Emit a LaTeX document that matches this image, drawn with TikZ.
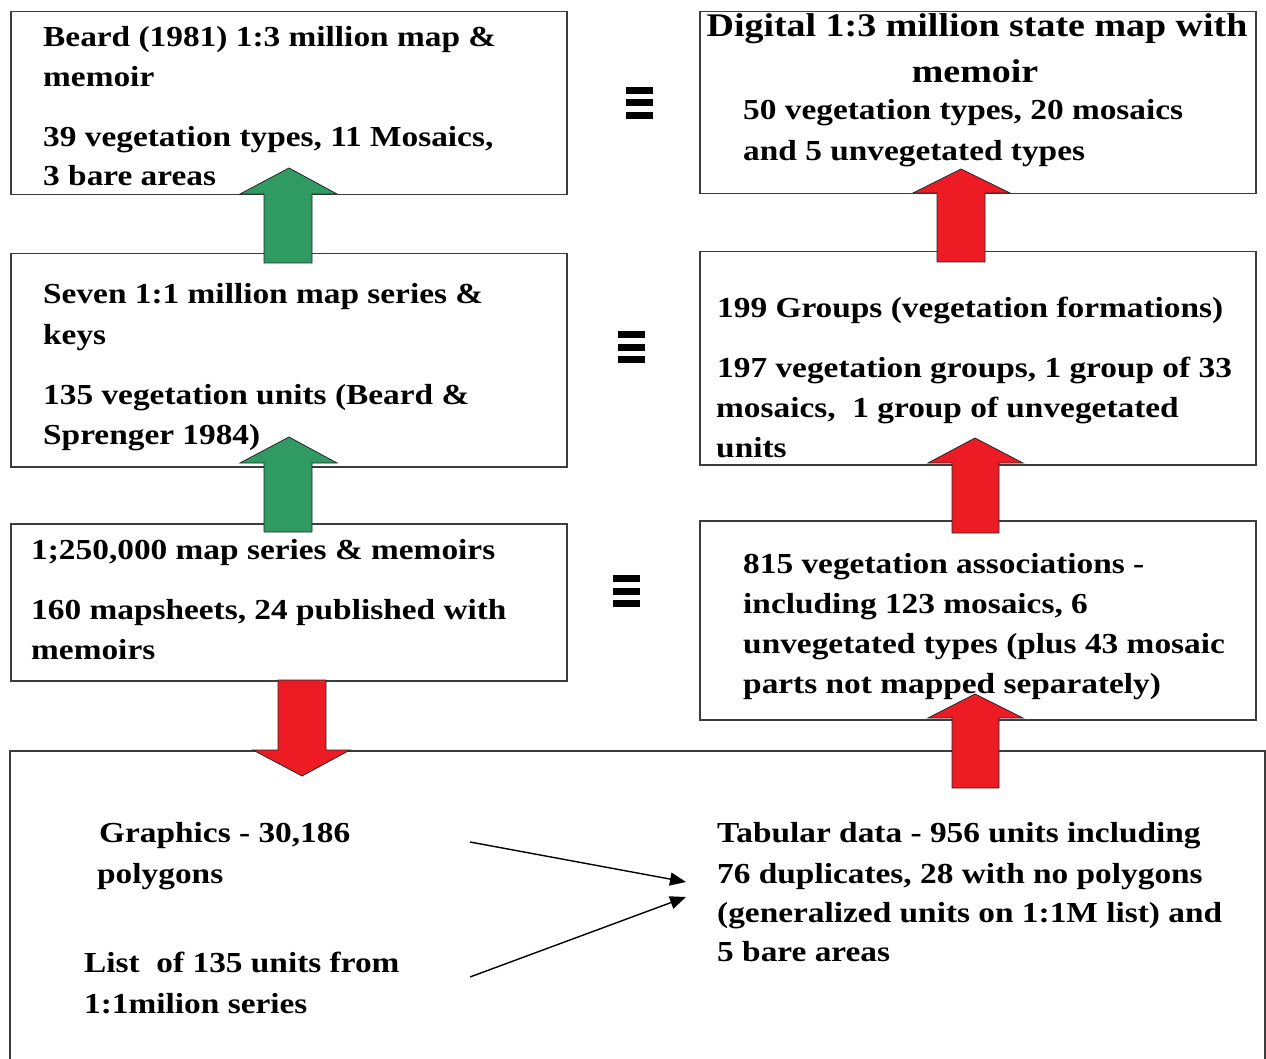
\documentclass[tikz,border=0pt]{standalone}
\usepackage{fontspec}
\setmainfont{Liberation Serif}[FakeStretch=1.15]
\usetikzlibrary{arrows.meta}
\definecolor{boxline}{RGB}{60,60,60}
\definecolor{arrgreen}{RGB}{47,155,99}
\definecolor{arrred}{RGB}{237,28,36}
\tikzset{
  box/.style={draw=boxline, line width=1.5pt, fill=white, rectangle, anchor=north west, inner sep=0pt},
  txt/.style={anchor=base west, inner sep=0pt, font=\bfseries\fontsize{29}{35}\selectfont},
  ttl/.style={anchor=base, inner sep=0pt, font=\bfseries\fontsize{33}{40}\selectfont},
  blockarrow/.style={draw=black!85, line width=0.8pt, line join=miter},
  greenarrow/.style={blockarrow, fill=arrgreen},
  redarrow/.style={blockarrow, fill=arrred},
  thinarrow/.style={draw=black, line width=1.4pt, -{Triangle[length=16pt,width=13pt]}},
  eqbar/.style={fill=black, draw=none}
}
\begin{document}
\begin{tikzpicture}[x=1pt,y=-1pt]
\useasboundingbox (0,0) rectangle (1266,1059);

% boxes
\node[box, minimum width=556pt, minimum height=183pt] (b1) at (10,11) {};
\node[box, minimum width=556pt, minimum height=182pt] (r1) at (699,11) {};
\node[box, minimum width=556pt, minimum height=213pt] (b2) at (10,253) {};
\node[box, minimum width=556pt, minimum height=213pt] (r2) at (699,251) {};
\node[box, minimum width=556pt, minimum height=157pt] (b3) at (10,523) {};
\node[box, minimum width=556pt, minimum height=199pt] (r3) at (699,520) {};
% bottom open box
\draw[draw=boxline, line width=1.5pt] (10,1070) -- (10,751) -- (1265,751) -- (1265,1070);

% block arrows
\draw[greenarrow] (264,263) -- (264,194) -- (240,194) -- (289,168) -- (337,194) -- (312,194) -- (312,263) -- cycle;
\draw[greenarrow] (264,532) -- (264,463) -- (240,463) -- (289,437) -- (337,463) -- (312,463) -- (312,532) -- cycle;
\draw[redarrow] (278,680) -- (278,750) -- (253,750) -- (302,776) -- (350,750) -- (326,750) -- (326,680) -- cycle;
\draw[redarrow] (937,262) -- (937,193) -- (913,193) -- (961,169) -- (1010,193) -- (985,193) -- (985,262) -- cycle;
\draw[redarrow] (952,533) -- (952,463) -- (928,463) -- (975,438) -- (1023,463) -- (999,463) -- (999,533) -- cycle;
\draw[redarrow] (952,788) -- (952,718) -- (928,718) -- (975,694) -- (1023,718) -- (999,718) -- (999,788) -- cycle;

% equivalence signs
\foreach \cx/\cy in {639/103, 631/347, 626/591}{
  \fill[eqbar] (\cx-13.5,\cy-16) rectangle (\cx+13.5,\cy-9);
  \fill[eqbar] (\cx-13.5,\cy-3.5) rectangle (\cx+13.5,\cy+3.5);
  \fill[eqbar] (\cx-13.5,\cy+9) rectangle (\cx+13.5,\cy+16);
}

% thin connectors
\coordinate (gs) at (470,842);
\coordinate (ls) at (470,977);
\coordinate (te1) at (686,882);
\coordinate (te2) at (686,897);
\draw[thinarrow] (gs) -- (te1);
\draw[thinarrow] (ls) -- (te2);

% texts box b1
\node[txt] (b1t1) at (43,47) {Beard (1981) 1:3 million map \&};
\node[txt] (b1t2) at (43,87) {memoir};
\node[txt] (b1t3) at (43,147) {39 vegetation types, 11 Mosaics,};
\node[txt] (b1t4) at (43,186) {3 bare areas};
% r1
\node[ttl] (r1t1) at (977,37) {Digital 1:3 million state map with};
\node[ttl] (r1t2) at (975,83) {memoir};
\node[txt] (r1t3) at (743,120) {50 vegetation types, 20 mosaics};
\node[txt] (r1t4) at (743,161) {and 5 unvegetated types};
% b2
\node[txt] (b2t1) at (43,304) {Seven 1:1 million map series \&};
\node[txt] (b2t2) at (43,344) {keys};
\node[txt] (b2t3) at (43,404) {135 vegetation units (Beard \&};
\node[txt] (b2t4) at (43,444) {Sprenger 1984)};
% r2
\node[txt] (r2t1) at (717,317) {199 Groups (vegetation formations)};
\node[txt] (r2t2) at (717,377) {197 vegetation groups, 1 group of 33};
\node[txt] (r2t3) at (716,417) {mosaics,\ \ 1 group of unvegetated};
\node[txt] (r2t4) at (716,457) {units};
% b3
\node[txt] (b3t1) at (31,559) {1;250,000 map series \& memoirs};
\node[txt] (b3t2) at (31,619) {160 mapsheets, 24 published with};
\node[txt] (b3t3) at (31,659) {memoirs};
% r3
\node[txt] (r3t1) at (743,573) {815 vegetation associations -};
\node[txt] (r3t2) at (743,613) {including 123 mosaics, 6};
\node[txt] (r3t3) at (743,653) {unvegetated types (plus 43 mosaic};
\node[txt] (r3t4) at (743,693) {parts not mapped separately)};
% bottom
\node[txt] (g1) at (99,842) {Graphics - 30,186};
\node[txt] (g2) at (97,883) {polygons};
\node[txt] (l1) at (84,972) {List\ \ of 135 units from};
\node[txt] (l2) at (84,1013) {1:1milion series};
\node[txt] (t1) at (717,842) {Tabular data - 956 units including};
\node[txt] (t2) at (717,883) {76 duplicates, 28 with no polygons};
\node[txt] (t3) at (717,922) {(generalized units on 1:1M list) and};
\node[txt] (t4) at (717,961) {5 bare areas};
\end{tikzpicture}
\end{document}
